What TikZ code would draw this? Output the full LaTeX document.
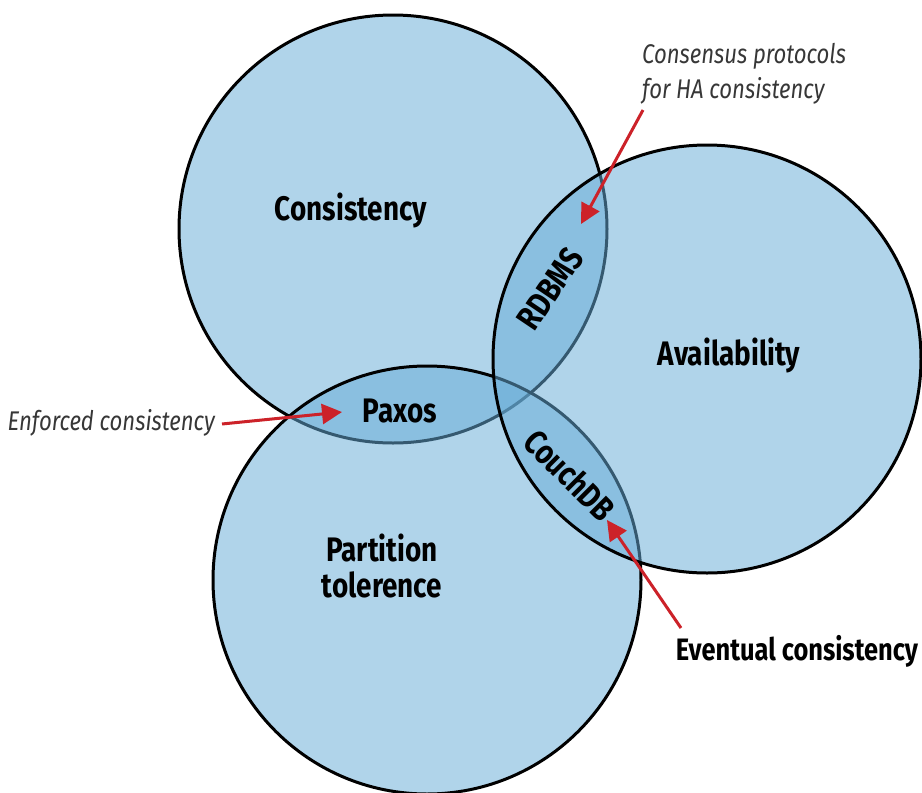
\documentclass[tikz,border=0pt]{standalone}
\usepackage{fontspec}
\setmainfont{Fira Sans}[FakeStretch=0.82]
\usetikzlibrary{arrows.meta}
\definecolor{cfill}{RGB}{103,172,215}
\definecolor{arrred}{RGB}{204,34,41}
\definecolor{notegray}{RGB}{55,55,55}
\begin{document}
\begin{tikzpicture}[x=1pt,y=-1pt,
  venn/.style={circle,inner sep=0pt,outer sep=0pt,minimum size=428pt,fill=cfill,fill opacity=0.52,draw=black,draw opacity=1,line width=3pt},
  big/.style={font=\fontsize{34}{36}\selectfont\bfseries,text=black,align=center,inner sep=0pt},
  lens/.style={font=\fontsize{34}{36}\selectfont\bfseries,text=black,inner sep=0pt},
  note/.style={font=\fontsize{27}{35}\selectfont\itshape,text=notegray,inner sep=0pt},
  redarrow/.style={draw=arrred,line width=3pt,-{Triangle[length=20pt,width=20pt]}}]
\useasboundingbox (0,0) rectangle (922,793);
% circles
\node[venn] (C) at (393,229) {};
\node[venn] (P) at (427,580) {};
\node[venn] (A) at (707,359) {};
% circle labels
\node[big] (lc) at (351,210) {Consistency};
\node[big] (la) at (729,355) {Availability};
\node[big] (lp) at (382,566) {Partition\\tolerence};
% lens labels
\node[lens] (paxos) at (400,411) {Paxos};
\node[lens,rotate=56] (rdbms) at (550,289) {RDBMS};
\node[lens,rotate=-45] (couch) at (570,475) {CouchDB};
% notes
\node[note,anchor=east] (enf) at (215,423) {Enforced consistency};
\node[note,anchor=north west,align=left] (cons) at (642,43) {Consensus protocols\\for HA consistency};
\node[font=\fontsize{31}{34}\selectfont\bfseries,text=black,inner sep=0pt] (ev) at (797,651) {Eventual consistency};
% arrow endpoints
\coordinate (enfs) at (222,424);
\coordinate (enft) at (342,412);
\coordinate (conss) at (643,110);
\coordinate (const) at (581,224);
\coordinate (evs) at (681,628);
\coordinate (evt) at (607,520);
\draw[redarrow] (enfs) -- (enft);
\draw[redarrow] (conss) -- (const);
\draw[redarrow] (evs) -- (evt);
\end{tikzpicture}
\end{document}
